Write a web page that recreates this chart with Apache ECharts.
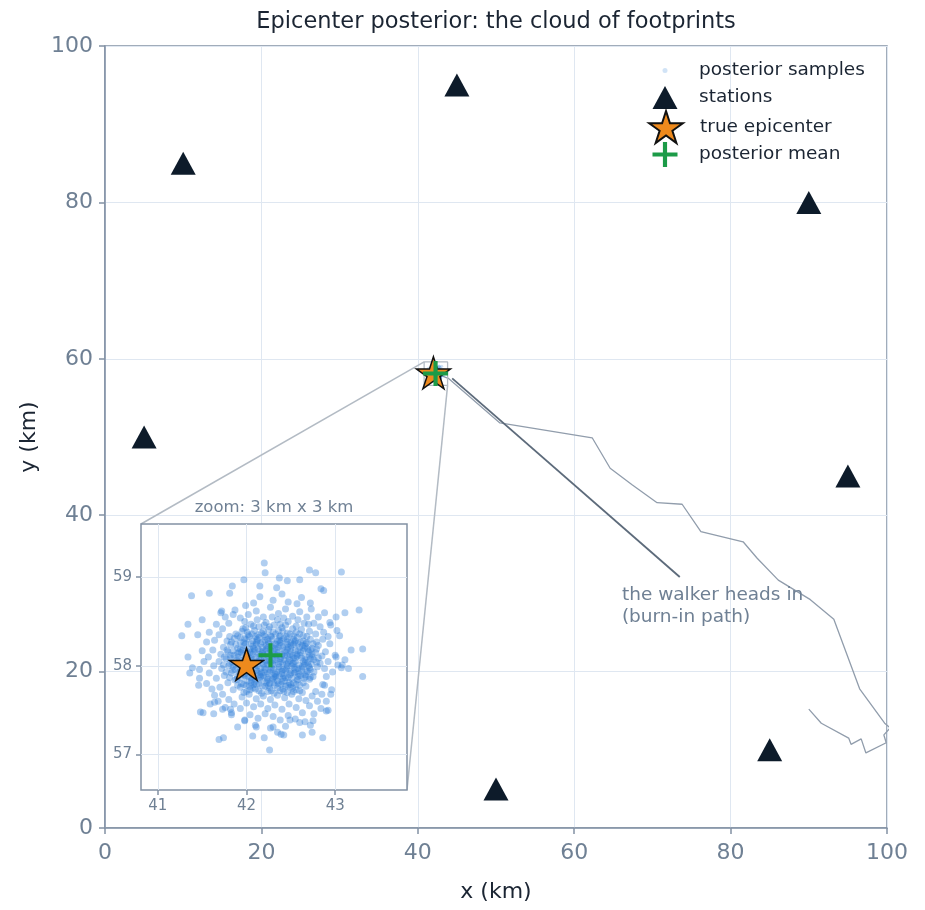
<!DOCTYPE html>
<html>
<head>
<meta charset="utf-8">
<script src="https://cdn.jsdelivr.net/npm/echarts@6/dist/echarts.min.js"></script>
<style>html,body{margin:0;padding:0;background:#fff}#chart{width:925px;height:910px}</style>
</head>
<body>
<div id="chart"></div>
<script>
// stations, truth and the walker's path (km)
var stations = [[10,85],[45,95],[90,80],[5,50],[95,45],[85,10],[50,5]];
var trueEpicenter = [42.0, 58.0];
var posteriorMean = [42.27, 58.12];
var burnInPath = [[90.0,15.2],[91.6,13.4],[95.1,11.5],[95.4,10.7],[96.7,11.4],[97.3,9.6],[99.9,10.9],[99.6,11.9],
  [100.4,12.8],[99.7,13.4],[96.5,17.8],[93.2,26.7],[90.2,29.2],[86.1,31.7],[83.4,34.5],[81.6,36.6],[76.2,37.9],
  [73.8,41.4],[70.6,41.6],[67.4,43.9],[64.6,46.0],[62.3,49.9],[50.5,51.8],[43.9,57.5],[42.3,58.1]];
var arrowPath = [[73.5,32.1],[44.4,57.5]];
var annotationAt = [66.1, 31.2];
var zoomX = [40.81, 43.81];
var zoomY = [56.6, 59.6];
var insetTicksX = [41, 42, 43];
var insetTicksY = [57, 58, 59];

// posterior samples
var samples = [
  // core
  [42.05,58.47],[42.14,58.44],[42.22,58.49],[42.31,58.46],[42.40,58.43],[42.47,58.50],[42.56,58.45],[41.96,58.42],[42.62,58.41],[42.35,58.52],
  [41.88,58.36],[41.95,58.39],[42.02,58.35],[42.09,58.40],[42.17,58.37],[42.25,58.41],[42.33,58.36],[42.41,58.39],[42.49,58.36],[42.56,58.38],[42.64,58.34],[42.71,58.39],[41.81,58.33],
  [41.78,58.28],[41.86,58.31],[41.93,58.27],[42.00,58.30],[42.07,58.28],[42.14,58.32],[42.21,58.29],[42.28,58.33],[42.35,58.28],[42.42,58.31],[42.50,58.27],[42.57,58.32],[42.64,58.28],[42.72,58.30],[42.79,58.27],
  [41.74,58.21],[41.82,58.24],[41.90,58.20],[41.97,58.23],[42.04,58.19],[42.11,58.24],[42.18,58.21],[42.25,58.25],[42.32,58.20],[42.39,58.23],[42.46,58.19],[42.53,58.24],[42.60,58.21],[42.67,58.25],[42.74,58.20],[42.81,58.23],
  [41.71,58.13],[41.79,58.16],[41.86,58.12],[41.94,58.15],[42.01,58.11],[42.08,58.16],[42.15,58.13],[42.22,58.17],[42.29,58.12],[42.36,58.15],[42.43,58.11],[42.50,58.16],[42.57,58.13],[42.64,58.17],[42.71,58.12],[42.78,58.15],[42.85,58.11],
  [41.69,58.05],[41.77,58.08],[41.84,58.04],[41.92,58.07],[41.99,58.03],[42.06,58.08],[42.13,58.05],[42.20,58.09],[42.27,58.04],[42.34,58.07],[42.41,58.03],[42.48,58.08],[42.55,58.05],[42.62,58.09],[42.69,58.04],[42.76,58.07],[42.83,58.03],
  [41.72,57.97],[41.80,58.00],[41.87,57.96],[41.95,57.99],[42.02,57.95],[42.09,58.00],[42.16,57.97],[42.23,58.01],[42.30,57.96],[42.37,57.99],[42.44,57.95],[42.51,58.00],[42.58,57.97],[42.65,58.01],[42.72,57.96],[42.80,57.99],
  [41.75,57.89],[41.83,57.92],[41.90,57.88],[41.98,57.91],[42.05,57.87],[42.12,57.92],[42.19,57.89],[42.26,57.93],[42.33,57.88],[42.40,57.91],[42.47,57.87],[42.54,57.92],[42.61,57.89],[42.68,57.93],[42.75,57.88],
  [41.79,57.81],[41.87,57.84],[41.94,57.80],[42.01,57.83],[42.08,57.79],[42.15,57.84],[42.22,57.81],[42.29,57.85],[42.36,57.80],[42.43,57.83],[42.50,57.79],[42.57,57.84],[42.64,57.81],[42.71,57.85],
  [41.85,57.73],[41.93,57.76],[42.00,57.71],[42.07,57.75],[42.14,57.72],[42.21,57.77],[42.28,57.72],[42.35,57.75],[42.42,57.71],[42.49,57.76],[42.56,57.73],[42.63,57.70],
  [41.95,57.65],[42.03,57.68],[42.11,57.63],[42.19,57.66],[42.27,57.62],[42.35,57.67],[42.43,57.64],[42.51,57.68],[42.59,57.63],
  [41.93,58.32],[42.01,58.38],[42.10,58.33],[42.19,58.39],[42.27,58.34],[42.36,58.40],[42.45,58.33],[42.53,58.30],
  [41.88,58.24],[41.96,58.18],[42.05,58.25],[42.13,58.19],[42.22,58.23],[42.30,58.17],[42.38,58.26],[42.47,58.21],[42.55,58.18],[42.63,58.23],[42.70,58.16],
  [41.82,58.09],[41.90,58.14],[41.98,58.08],[42.07,58.13],[42.16,58.07],[42.24,58.14],[42.32,58.09],[42.40,58.13],[42.49,58.06],[42.57,58.11],[42.66,58.07],[42.74,58.13],
  [41.85,57.99],[41.93,57.94],[42.02,58.00],[42.11,57.95],[42.19,58.02],[42.28,57.98],[42.36,58.02],[42.45,57.97],[42.53,58.03],[42.62,57.94],[42.70,58.00],
  [41.89,57.85],[41.97,57.90],[42.06,57.84],[42.15,57.90],[42.24,57.85],[42.32,57.91],[42.41,57.86],[42.49,57.90],[42.58,57.85],[42.66,57.90],
  [42.00,57.78],[42.09,57.82],[42.18,57.77],[42.26,57.80],[42.35,57.83],[42.44,57.77],[42.53,57.81],
  [42.12,58.28],[42.24,58.30],[42.37,58.29],[42.46,58.24],[42.18,58.16],[42.34,58.18],[42.42,58.07],[42.26,58.06],[42.10,58.04],[42.21,57.96],[42.40,57.94],[42.31,57.88],[42.17,57.92],[42.49,58.13],[42.04,58.15],[42.55,57.96],
  [41.99,58.43],[42.08,58.45],[42.26,58.44],[42.44,58.46],[42.52,58.42],
  [41.90,58.34],[41.98,58.31],[42.06,58.36],[42.13,58.35],[42.21,58.33],[42.30,58.38],[42.38,58.34],[42.46,58.37],[42.53,58.34],[42.60,58.36],[42.68,58.33],
  [41.83,58.27],[41.97,58.26],[42.11,58.26],[42.18,58.27],[42.25,58.27],[42.32,58.25],[42.39,58.28],[42.46,58.27],[42.54,58.26],[42.61,58.27],[42.68,58.26],[42.75,58.25],
  [41.78,58.18],[41.85,58.17],[41.93,58.19],[42.00,58.17],[42.08,58.20],[42.15,58.17],[42.22,58.19],[42.28,58.22],[42.36,58.21],[42.43,58.17],[42.50,58.20],[42.58,58.17],[42.65,58.20],[42.72,58.18],[42.79,58.19],
  [41.75,58.10],[41.82,58.12],[41.90,58.10],[41.97,58.12],[42.04,58.09],[42.11,58.10],[42.19,58.12],[42.25,58.10],[42.32,58.13],[42.39,58.10],[42.46,58.12],[42.53,58.09],[42.60,58.12],[42.67,58.10],[42.74,58.10],[42.81,58.09],
  [41.74,58.01],[41.81,58.03],[41.88,58.01],[41.96,58.03],[42.03,58.04],[42.10,58.02],[42.17,58.04],[42.24,58.02],[42.31,58.01],[42.38,58.04],[42.45,58.02],[42.52,58.02],[42.59,58.01],[42.66,58.03],[42.73,58.02],[42.79,58.04],
  [41.77,57.93],[41.84,57.95],[41.91,57.93],[41.99,57.95],[42.06,57.93],[42.13,57.94],[42.20,57.93],[42.27,57.95],[42.34,57.93],[42.41,57.96],[42.48,57.94],[42.55,57.93],[42.62,57.97],[42.69,57.94],[42.76,57.93],
  [41.81,57.87],[41.94,57.86],[42.02,57.88],[42.09,57.86],[42.16,57.87],[42.23,57.87],[42.30,57.86],[42.37,57.88],[42.44,57.87],[42.51,57.86],[42.58,57.88],[42.65,57.86],[42.72,57.87],
  [41.90,57.78],[41.97,57.79],[42.04,57.77],[42.11,57.79],[42.25,57.78],[42.32,57.78],[42.39,57.79],[42.47,57.78],[42.60,57.78],[42.67,57.77],
  [41.97,57.70],[42.04,57.73],[42.17,57.69],[42.24,57.71],[42.31,57.69],[42.38,57.72],[42.46,57.70],[42.53,57.71],[42.60,57.72],
  [41.98,58.50],[42.12,58.52],[42.29,58.55],[42.42,58.54],[42.58,58.52],[42.65,58.48],[42.38,58.47],[42.20,58.46],
  [42.03,58.33],[42.12,58.30],[42.20,58.35],[42.29,58.30],[42.37,58.33],[42.46,58.30],[42.55,58.28],
  [41.99,58.25],[42.07,58.22],[42.16,58.25],[42.24,58.21],[42.33,58.24],[42.41,58.21],[42.50,58.23],[42.58,58.25],[42.66,58.22],
  [41.92,58.16],[42.01,58.14],[42.09,58.18],[42.18,58.14],[42.27,58.18],[42.35,58.12],[42.44,58.15],[42.52,58.12],[42.61,58.15],[42.69,58.19],
  [41.89,58.06],[41.97,58.05],[42.05,58.06],[42.14,58.10],[42.22,58.06],[42.30,58.06],[42.38,58.08],[42.47,58.04],[42.55,58.09],[42.64,58.05],[42.72,58.08],
  [41.94,57.97],[42.03,57.98],[42.12,58.00],[42.20,57.98],[42.29,58.02],[42.37,57.96],[42.46,58.00],[42.54,57.98],[42.63,57.99],[42.71,57.98],
  [41.98,57.89],[42.07,57.90],[42.16,57.88],[42.24,57.91],[42.33,57.90],[42.42,57.89],[42.50,57.92],[42.59,57.91],[42.67,57.88],
  [42.05,57.81],[42.14,57.80],[42.23,57.83],[42.31,57.81],[42.40,57.82],[42.48,57.81],[42.56,57.79],
  [42.10,57.74],[42.26,57.75],[42.41,57.74],[42.52,57.75],
  // middle ring
  [42.02,58.58],[42.11,58.62],[42.19,58.55],[42.27,58.66],[42.36,58.59],[42.44,58.64],[42.52,58.56],[42.60,58.61],[41.93,58.54],[42.68,58.55],
  [42.08,58.71],[42.30,58.74],[42.47,58.72],[42.57,58.70],[41.87,58.63],[42.15,58.78],[42.40,58.81],[42.62,58.77],[41.99,58.68],[42.73,58.64],
  [41.80,58.48],[41.73,58.42],[41.69,58.35],[41.76,58.55],[41.85,58.58],[41.64,58.29],[41.66,58.47],[41.58,58.38],[41.72,58.62],[41.55,58.27],
  [41.62,58.18],[41.57,58.10],[41.63,58.00],[41.58,57.92],[41.66,57.86],[41.52,58.05],[41.50,58.17],[41.47,57.96],[41.55,57.80],[41.61,57.74],
  [41.70,57.76],[41.73,57.68],[41.80,57.62],[41.68,57.60],[41.76,57.53],[41.86,57.57],[41.64,57.67],[41.83,57.47],[41.93,57.52],[41.59,57.57],
  [42.00,57.58],[42.08,57.54],[42.16,57.57],[42.24,57.52],[42.32,57.56],[42.40,57.51],[42.48,57.57],[42.56,57.53],[42.04,57.45],[42.13,57.41],
  [42.21,57.46],[42.30,57.43],[42.38,57.39],[42.47,57.44],[42.55,57.40],[42.63,57.47],[42.10,57.33],[42.27,57.30],[42.44,57.32],[41.98,57.38],[42.35,57.25],
  [42.67,57.61],[42.74,57.66],[42.71,57.55],[42.80,57.60],[42.78,57.71],[42.85,57.68],[42.66,57.37],[42.76,57.46],[42.84,57.52],[42.90,57.60],[42.72,57.33],
  [42.86,57.79],[42.90,57.88],[42.88,57.97],[42.92,58.05],[42.89,58.16],[42.94,58.25],[42.97,57.93],[43.00,58.12],[42.96,57.73],[43.03,58.01],[42.86,58.30],
  [42.78,58.36],[42.83,58.44],[42.76,58.48],[42.87,58.38],[42.92,58.33],[42.70,58.47],[42.81,58.55],[42.95,58.46],[42.88,58.60],[43.02,58.40],[42.72,58.71],
  // outliers
  [42.20,59.16],[42.21,59.05],[42.71,59.08],[42.78,59.05],[43.07,59.06],[41.38,58.79],[41.58,58.82],[41.27,58.34],[41.34,58.47],[43.27,58.63],
  [43.11,58.60],[43.31,58.19],[43.31,57.88],[43.18,58.18],[43.05,58.34],[42.94,58.49],[41.36,57.92],[41.34,58.10],[41.47,57.86],[41.46,57.78],
  [41.48,57.48],[41.51,57.47],[41.69,57.17],[41.74,57.19],[42.26,57.05],[42.20,57.19],[41.90,57.31],[42.07,57.21],[42.42,57.22],[42.63,57.22],
  [42.74,57.25],[42.86,57.19],[42.92,57.50],[42.95,57.68],[43.08,58.01],[43.15,57.97],[43.01,58.10],[41.63,57.46],[41.82,57.51],[43.01,58.55],
  [42.37,58.99],[42.46,58.96],[42.60,58.97],[42.84,58.87],[42.87,58.85],[42.15,58.90],[42.34,58.88],[41.81,58.82],[41.84,58.90],[41.97,58.97],
  [41.50,58.52],[41.45,58.35],[41.71,58.60],[41.39,57.98],[41.64,57.59],[41.73,57.51],[41.83,57.45],[41.98,57.39],[42.39,57.23],[42.75,57.38],
  [42.90,57.49],[42.88,57.78],[43.11,58.07],[43.07,57.98],[42.60,57.36],[42.49,57.39],[42.30,57.31],[42.11,57.31]
];

var FONT = 'DejaVu Sans';
var dark = '#1b2533';
var tickC = '#6f8094';
var spine = '#8291a4';
var gridC = '#dfe7f1';
var blue = '#2f7ed8';
var starPath = 'path://M50,0 L61.17,34.63 L97.55,34.55 L68.07,55.87 L79.39,90.45 L50,69 L20.61,90.45 L31.93,55.87 L2.45,34.55 L38.83,34.63 Z';
var plusPath = 'path://M5,0 L7,0 L7,5 L12,5 L12,7 L7,7 L7,12 L5,12 L5,7 L0,7 L0,5 L5,5 Z';
var triPath = 'path://M0,23 L12.5,0 L25,23 Z';

var zoomBox = [[zoomX[0],zoomY[0]],[zoomX[1],zoomY[0]],[zoomX[1],zoomY[1]],[zoomX[0],zoomY[1]],[zoomX[0],zoomY[0]]];

// legend icons are centred on x=665, text starts at x=699
function legendAt(name, top, h, iconW) {
  return {
    data: [name], left: 665 - iconW / 2, top: top, itemWidth: 58, itemHeight: h, padding: 0, itemGap: 0,
    selectedMode: false, textStyle: {fontFamily: FONT, fontSize: 18.5, color: dark}
  };
}

var chart = echarts.init(document.getElementById('chart'));
var option = {
  animation: false,
  backgroundColor: '#fff',
  textStyle: {fontFamily: FONT},
  title: [{
    text: 'Epicenter posterior: the cloud of footprints',
    left: 496, top: 11, textAlign: 'center', padding: 0,
    textStyle: {fontFamily: FONT, fontSize: 22.5, fontWeight: 'normal', color: dark}
  }, {
    text: 'zoom: 3 km x 3 km',
    left: 274, top: 499, textAlign: 'center', padding: 0,
    textStyle: {fontFamily: FONT, fontSize: 16.5, fontWeight: 'normal', color: tickC}
  }],
  legend: [
    legendAt('posterior samples', 61, 5, 5),
    legendAt('stations', 86, 23, 25),
    legendAt('true epicenter', 110, 32, 33.6),
    legendAt('posterior mean', 142, 25, 25)
  ],
  grid: [
    {left: 105, top: 46, right: 38, bottom: 82, show: true, borderColor: spine, borderWidth: 1.5, backgroundColor: 'transparent'},
    {left: 141, top: 524, width: 266, height: 266, show: true, borderColor: spine, borderWidth: 1.5, backgroundColor: '#fff', z: 10}
  ],
  xAxis: [{
    gridIndex: 0, type: 'value', min: 0, max: 100, interval: 20,
    name: 'x (km)', nameLocation: 'middle', nameGap: 53,
    nameTextStyle: {fontFamily: FONT, fontSize: 22, color: dark},
    axisLine: {show: true, onZero: false, lineStyle: {color: spine, width: 1.5}},
    axisTick: {show: true, length: 6, lineStyle: {color: spine, width: 1.5}},
    axisLabel: {fontFamily: FONT, fontSize: 22, color: tickC, margin: 14},
    splitLine: {show: true, lineStyle: {color: gridC, width: 1}}
  }, {
    gridIndex: 1, type: 'value', min: zoomX[0], max: zoomX[1], z: 11,
    axisLine: {show: false, onZero: false},
    axisTick: {show: true, length: 5, customValues: insetTicksX, lineStyle: {color: spine, width: 1.5}},
    axisLabel: {customValues: insetTicksX, fontFamily: FONT, fontSize: 15, color: tickC, margin: 9},
    splitLine: {show: true, lineStyle: {color: gridC, width: 1}}
  }],
  yAxis: [{
    gridIndex: 0, type: 'value', min: 0, max: 100, interval: 20,
    name: 'y (km)', nameLocation: 'middle', nameGap: 64,
    nameTextStyle: {fontFamily: FONT, fontSize: 22, color: dark},
    axisLine: {show: true, onZero: false, lineStyle: {color: spine, width: 1.5}},
    axisTick: {show: true, length: 6, lineStyle: {color: spine, width: 1.5}},
    axisLabel: {fontFamily: FONT, fontSize: 22, color: tickC, margin: 12},
    splitLine: {show: true, lineStyle: {color: gridC, width: 1}}
  }, {
    gridIndex: 1, type: 'value', min: zoomY[0], max: zoomY[1], z: 11,
    axisLine: {show: false, onZero: false},
    axisTick: {show: true, length: 5, customValues: insetTicksY, lineStyle: {color: spine, width: 1.5}},
    axisLabel: {customValues: insetTicksY, fontFamily: FONT, fontSize: 15, color: tickC, margin: 9},
    splitLine: {show: true, lineStyle: {color: gridC, width: 1}}
  }],
  series: [
    {
      name: 'burn-in', type: 'line', xAxisIndex: 0, yAxisIndex: 0, data: burnInPath,
      showSymbol: false, symbol: 'none', z: 2, silent: true,
      lineStyle: {color: '#919dac', width: 1.3}
    },
    {
      name: 'zoom box', type: 'line', xAxisIndex: 0, yAxisIndex: 0, data: zoomBox,
      symbol: 'none', z: 2, silent: true,
      lineStyle: {color: '#b3bbc4', width: 1.3}
    },
    {
      name: 'arrow', type: 'line', xAxisIndex: 0, yAxisIndex: 0, data: arrowPath,
      symbol: 'none', z: 3, silent: true,
      lineStyle: {color: '#5d6b7b', width: 1.8}
    },
    {
      name: 'posterior samples', type: 'scatter', xAxisIndex: 0, yAxisIndex: 0, data: samples,
      symbol: 'circle', symbolSize: 3, z: 4, silent: true,
      itemStyle: {color: blue, opacity: 0.22}
    },
    {
      name: 'stations', type: 'scatter', xAxisIndex: 0, yAxisIndex: 0, data: stations,
      symbol: triPath, symbolSize: [25, 23], z: 4, silent: true,
      itemStyle: {color: '#0d1b2a', opacity: 1}
    },
    {
      name: 'true epicenter', type: 'scatter', xAxisIndex: 0, yAxisIndex: 0, data: [trueEpicenter],
      symbol: starPath, symbolSize: [34, 32], symbolOffset: [0, '-5%'], z: 5, silent: true,
      itemStyle: {color: '#ee8a1d', borderColor: '#111111', borderWidth: 1.5, opacity: 1}
    },
    {
      name: 'posterior mean', type: 'scatter', xAxisIndex: 0, yAxisIndex: 0, data: [posteriorMean],
      symbol: plusPath, symbolSize: 25, z: 6, silent: true,
      itemStyle: {color: '#1c9b48', opacity: 1}
    },
    {
      name: 'inset samples', type: 'scatter', xAxisIndex: 1, yAxisIndex: 1, data: samples,
      symbol: 'circle', symbolSize: 7, z: 12, silent: true, large: false, progressive: 0,
      itemStyle: {color: blue, opacity: 0.38}
    },
    {
      name: 'inset epicenter', type: 'scatter', xAxisIndex: 1, yAxisIndex: 1, data: [trueEpicenter],
      symbol: starPath, symbolSize: [34, 32], symbolOffset: [0, '-5%'], z: 13, silent: true,
      itemStyle: {color: '#ee8a1d', borderColor: '#111111', borderWidth: 1.5, opacity: 1}
    },
    {
      name: 'inset mean', type: 'scatter', xAxisIndex: 1, yAxisIndex: 1, data: [posteriorMean],
      symbol: plusPath, symbolSize: 24, z: 14, silent: true,
      itemStyle: {color: '#1c9b48', opacity: 1}
    }
  ]
};
chart.setOption(option);

// connector lines between the zoom box and the inset, plus the annotation text
var insetTL = chart.convertToPixel({gridIndex: 1}, [zoomX[0], zoomY[1]]);
var boxTL = chart.convertToPixel({gridIndex: 0}, [zoomX[0], zoomY[1]]);
var insetBR = chart.convertToPixel({gridIndex: 1}, [zoomX[1], zoomY[0]]);
var boxBR = chart.convertToPixel({gridIndex: 0}, [zoomX[1], zoomY[0]]);
var textAt = chart.convertToPixel({gridIndex: 0}, annotationAt);
chart.setOption({
  graphic: [
    {type: 'line', z: 3, silent: true, shape: {x1: insetTL[0], y1: insetTL[1], x2: boxTL[0], y2: boxTL[1]},
      style: {stroke: '#b3bbc4', lineWidth: 1.5}},
    {type: 'line', z: 3, silent: true, shape: {x1: insetBR[0], y1: insetBR[1], x2: boxBR[0], y2: boxBR[1]},
      style: {stroke: '#b3bbc4', lineWidth: 1.5}},
    {type: 'text', z: 3, silent: true, x: textAt[0], y: textAt[1],
      style: {text: 'the walker heads in\n(burn-in path)', font: '18.5px "DejaVu Sans"', fill: tickC,
        textAlign: 'left', textVerticalAlign: 'top', lineHeight: 22}}
  ]
});
</script>
</body>
</html>
